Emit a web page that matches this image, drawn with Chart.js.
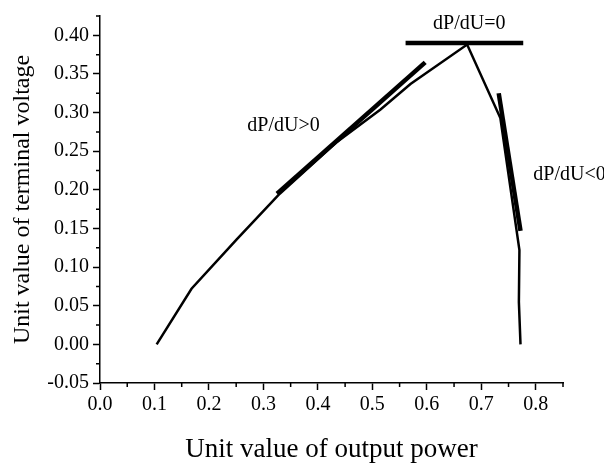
<!DOCTYPE html>
<html lang="en">

<head>
    <meta charset="UTF-8">
    <title>P-U curve</title>
    <style>
        body { margin: 0; background: #fff; }
    </style>
</head>

<body>

    <div style="width: 604px; height: 467px;">
        <canvas id="myChart"></canvas>
    </div>

    <script src="https://cdn.jsdelivr.net/npm/chart.js"></script>
    <script>
        // P-U curve (unit values)
        const curveX = [0.104, 0.168, 0.251, 0.330, 0.435, 0.515, 0.570, 0.674, 0.735, 0.770, 0.769, 0.772];
        const curveY = [0.000, 0.072, 0.136, 0.195, 0.262, 0.304, 0.337, 0.388, 0.293, 0.122, 0.055, 0.000];

        // tangent lines
        const riseX = [0.325, 0.597];
        const riseY = [0.195, 0.365];
        const flatX = [0.561, 0.777];
        const flatY = [0.390, 0.390];
        const fallX = [0.732, 0.772];
        const fallY = [0.325, 0.147];

        // annotations
        const noteText = ['dP/dU=0', 'dP/dU>0', 'dP/dU<0'];
        const noteX = [0.678, 0.337, 0.862];
        const noteY = [0.415, 0.283, 0.220];

        const xLabelTicks = [0.0, 0.1, 0.2, 0.3, 0.4, 0.5, 0.6, 0.7, 0.8];
        const yLabelTicks = [-0.05, 0.00, 0.05, 0.10, 0.15, 0.20, 0.25, 0.30, 0.35, 0.40];

        const v_font = "'Liberation Serif', 'Times New Roman', serif";

        function f_points(xs, ys) {
            let v_out = [];
            for (let i = 0; i < xs.length; i++) {
                v_out.push({ x: xs[i], y: ys[i] });
            }
            return v_out;
        }

        function f_line(xs, ys, width) {
            return {
                data: f_points(xs, ys),
                borderColor: '#000',
                borderWidth: width,
                pointRadius: 0,
                showLine: true,
                tension: 0,
                borderCapStyle: 'butt'
            };
        }

        // minor ticks + annotations
        const v_extras = {
            id: 'extras',
            afterDraw(chart) {
                const c = chart.ctx;
                const xs = chart.scales.x;
                const ys = chart.scales.y;
                c.save();
                c.strokeStyle = '#000';
                c.lineWidth = 1.5;
                c.beginPath();
                for (let v = 0.05; v < 0.86; v += 0.1) {
                    let px = xs.getPixelForValue(v);
                    c.moveTo(px, xs.top);
                    c.lineTo(px, xs.top + 4);
                }
                for (let v = -0.025; v < 0.43; v += 0.05) {
                    let py = ys.getPixelForValue(v);
                    c.moveTo(ys.right, py);
                    c.lineTo(ys.right - 4, py);
                }
                c.stroke();

                c.fillStyle = '#000';
                c.font = "20px " + v_font;
                c.textAlign = 'center';
                c.textBaseline = 'middle';
                for (let i = 0; i < noteText.length; i++) {
                    c.fillText(noteText[i], xs.getPixelForValue(noteX[i]), ys.getPixelForValue(noteY[i]));
                }
                c.restore();
            }
        };

        const ctx = document.querySelector("#myChart");

        new Chart(ctx, {
            type: 'scatter',
            data: {
                datasets: [
                    f_line(curveX, curveY, 2.5),
                    f_line(riseX, riseY, 4.5),
                    f_line(flatX, flatY, 4.5),
                    f_line(fallX, fallY, 4.5)
                ]
            },
            options: {
                responsive: true,
                maintainAspectRatio: false,
                animation: false,
                layout: { padding: { top: 5, right: 41, left: 0, bottom: 0 } },
                plugins: {
                    legend: { display: false },
                    tooltip: { enabled: false }
                },
                scales: {
                    x: {
                        type: 'linear',
                        min: 0,
                        max: 0.85,
                        afterFit: (s) => { s.height = 84; },
                        afterBuildTicks: (s) => { s.ticks = xLabelTicks.map(v => ({ value: v })); },
                        border: { color: '#000', width: 1.5 },
                        grid: { drawOnChartArea: false, color: '#000', tickLength: 7, tickWidth: 1.5 },
                        ticks: {
                            color: '#000',
                            padding: 3,
                            maxRotation: 0,
                            font: { family: v_font, size: 20 },
                            callback: (v) => v.toFixed(1)
                        },
                        title: {
                            display: true,
                            text: 'Unit value of output power',
                            color: '#000',
                            font: { family: v_font, size: 27 },
                            padding: { top: 0, bottom: 1 }
                        }
                    },
                    y: {
                        type: 'linear',
                        min: -0.05,
                        max: 0.425,
                        afterFit: (s) => { s.width = 100; },
                        afterBuildTicks: (s) => { s.ticks = yLabelTicks.map(v => ({ value: v })); },
                        border: { color: '#000', width: 1.5 },
                        grid: { drawOnChartArea: false, color: '#000', tickLength: 7, tickWidth: 1.5 },
                        ticks: {
                            color: '#000',
                            padding: 4,
                            font: { family: v_font, size: 20 },
                            callback: (v) => v.toFixed(2)
                        },
                        title: {
                            display: true,
                            text: 'Unit value of terminal voltage',
                            color: '#000',
                            font: { family: v_font, size: 24 },
                            padding: { top: 8, bottom: 0 }
                        }
                    }
                }
            },
            plugins: [v_extras]
        });
    </script>

</body>

</html>
